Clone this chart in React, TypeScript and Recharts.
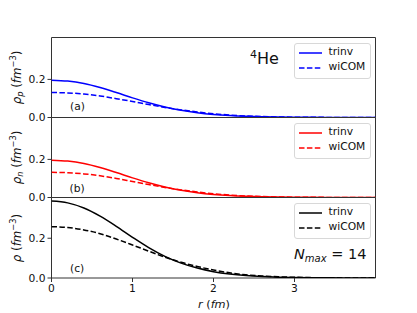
import React from "react";
import { LineChart, Line, XAxis, YAxis, ReferenceArea, Legend } from "recharts";

// radius (fm)
const radius = [0, 0.2, 0.4, 0.6, 0.8, 1.0, 1.2, 1.4, 1.6, 1.8, 2.0, 2.2, 2.4, 2.6, 2.8, 3.0, 3.2, 3.4, 3.6, 3.8, 4.0];
// proton density
const protonTrinv = [0.196, 0.191, 0.178, 0.157, 0.131, 0.103, 0.077, 0.055, 0.038, 0.025, 0.016, 0.01, 0.006, 0.0035, 0.002, 0.0012, 0.0007, 0.0004, 0.0002, 0.0001, 0.0001];
const protonWiCOM = [0.131, 0.129, 0.123, 0.113, 0.099, 0.084, 0.068, 0.053, 0.04, 0.029, 0.02, 0.013, 0.008, 0.005, 0.003, 0.0018, 0.001, 0.0006, 0.0003, 0.0002, 0.0001];
// neutron density
const neutronTrinv = [0.196, 0.191, 0.178, 0.157, 0.131, 0.103, 0.077, 0.055, 0.038, 0.025, 0.016, 0.01, 0.006, 0.0035, 0.002, 0.0012, 0.0007, 0.0004, 0.0002, 0.0001, 0.0001];
const neutronWiCOM = [0.132, 0.13, 0.124, 0.114, 0.1, 0.084, 0.068, 0.053, 0.04, 0.029, 0.02, 0.013, 0.008, 0.005, 0.003, 0.0018, 0.001, 0.0006, 0.0003, 0.0002, 0.0001];
// total density
const totalTrinv = [0.387, 0.378, 0.352, 0.311, 0.26, 0.205, 0.153, 0.109, 0.075, 0.05, 0.032, 0.02, 0.012, 0.007, 0.004, 0.0024, 0.0014, 0.0008, 0.0004, 0.0002, 0.0001];
const totalWiCOM = [0.258, 0.254, 0.242, 0.223, 0.196, 0.166, 0.135, 0.105, 0.079, 0.058, 0.04, 0.026, 0.016, 0.01, 0.006, 0.0035, 0.002, 0.0012, 0.0006, 0.0003, 0.0002];

const xTicks = [0, 1, 2, 3];
const yTicks = [0, 0.2];
const seriesNames = ["trinv", "wiCOM"];

const table = radius.map((r, i) => ({
  r,
  pS: protonTrinv[i],
  pD: protonWiCOM[i],
  nS: neutronTrinv[i],
  nD: neutronWiCOM[i],
  tS: totalTrinv[i],
  tD: totalWiCOM[i],
}));

const FONT = "'DejaVu Sans', sans-serif";
const FS = 10.7;
const YFS = 11.8;
const YSUB = 8.3;
const DASH = "5.5 2.4";
const W = 417;
const H = 313;

const legendContent = (color: string) => () => (
  <div
    style={{
      position: "relative",
      width: 77,
      height: 36,
      boxSizing: "border-box",
      border: "1px solid #d8d8d8",
      borderRadius: 3,
      background: "rgba(255,255,255,0.8)",
      fontFamily: FONT,
      fontSize: FS,
      color: "#111",
    }}
  >
    {seriesNames.map((name, i) => (
      <div
        key={name}
        style={{ position: "absolute", left: 0, top: (i === 0 ? 9 : 24.3) - 7, height: 14, width: 77, lineHeight: "14px" }}
      >
        <svg width={26} height={14} style={{ position: "absolute", left: 3, top: 0 }}>
          <line x1={1} y1={7} x2={24} y2={7} stroke={color} strokeWidth={1.5} strokeDasharray={i === 1 ? DASH : undefined} />
        </svg>
        <span style={{ position: "absolute", left: 34, top: -1 }}>{name}</span>
      </div>
    ))}
  </div>
);

type PanelProps = {
  top: number;
  bottom: number;
  ymax: number;
  solidKey: string;
  dashKey: string;
  color: string;
  showX: boolean;
};

function Panel({ top, bottom, ymax, solidKey, dashKey, color, showX }: PanelProps) {
  return (
    <div style={{ position: "absolute", left: 0, top: 0 }}>
      <LineChart
        width={380}
        height={H}
        data={table}
        margin={{ top, right: 4.5, left: 0, bottom: showX ? 5 : H - bottom }}
      >
        <XAxis
          dataKey="r"
          type="number"
          domain={[0, 4]}
          ticks={xTicks}
          allowDataOverflow
          hide={!showX}
          height={30}
          axisLine={false}
          tickSize={4}
          tickMargin={2}
          tickLine={{ stroke: "#333" }}
          tick={{ fontFamily: FONT, fontSize: FS, fill: "#111" }}
        />
        <YAxis
          type="number"
          domain={[0, ymax]}
          ticks={yTicks}
          allowDataOverflow
          width={51.5}
          axisLine={false}
          tickSize={4}
          tickMargin={2}
          tickLine={{ stroke: "#333" }}
          tick={{ fontFamily: FONT, fontSize: FS, fill: "#111" }}
          tickFormatter={(v: number) => v.toFixed(1)}
        />
        <Line dataKey={solidKey} name="trinv" type="monotone" stroke={color} strokeWidth={1.5} dot={false} isAnimationActive={false} />
        <Line dataKey={dashKey} name="wiCOM" type="monotone" stroke={color} strokeWidth={1.5} strokeDasharray={DASH} dot={false} isAnimationActive={false} />
        <ReferenceArea x1={0} x2={4} y1={0} y2={ymax} fill="none" fillOpacity={0} stroke="#333" strokeWidth={1} />
        <Legend
          layout="vertical"
          align="center"
          verticalAlign="middle"
          wrapperStyle={{ left: 293.5, top: top + 5.2, width: 77, height: 36 }}
          content={legendContent(color)}
        />
      </LineChart>
    </div>
  );
}

export default function App() {
  return (
    <div style={{ position: "absolute", left: 0, top: 0, width: W, height: H, background: "#fff" }}>
      <Panel top={37.5} bottom={117.5} ymax={0.42} solidKey="pS" dashKey="pD" color="#0000ff" showX={false} />
      <Panel top={117.5} bottom={197.5} ymax={0.42} solidKey="nS" dashKey="nD" color="#ff0000" showX={false} />
      <Panel top={197.5} bottom={278} ymax={0.405} solidKey="tS" dashKey="tD" color="#000000" showX={true} />
      <svg width={W} height={H} style={{ position: "absolute", left: 0, top: 0, pointerEvents: "none" }} fontFamily={FONT} fill="#111">
        {/* y-axis labels */}
        <text transform="translate(20.5,77.5) rotate(-90)" textAnchor="middle" fontSize={YFS}>
          <tspan fontStyle="italic">ρ</tspan>
          <tspan fontStyle="italic" fontSize={YSUB} dy={2.8}>p</tspan>
          <tspan dy={-2.8}> (</tspan>
          <tspan fontStyle="italic">fm</tspan>
          <tspan fontSize={YSUB} dy={-4.5}>−3</tspan>
          <tspan dy={4.5}>)</tspan>
        </text>
        <text transform="translate(20.5,157.5) rotate(-90)" textAnchor="middle" fontSize={YFS}>
          <tspan fontStyle="italic">ρ</tspan>
          <tspan fontStyle="italic" fontSize={YSUB} dy={2.8}>n</tspan>
          <tspan dy={-2.8}> (</tspan>
          <tspan fontStyle="italic">fm</tspan>
          <tspan fontSize={YSUB} dy={-4.5}>−3</tspan>
          <tspan dy={4.5}>)</tspan>
        </text>
        <text transform="translate(20.5,238) rotate(-90)" textAnchor="middle" fontSize={YFS}>
          <tspan fontStyle="italic">ρ</tspan>
          <tspan> (</tspan>
          <tspan fontStyle="italic">fm</tspan>
          <tspan fontSize={YSUB} dy={-4.5}>−3</tspan>
          <tspan dy={4.5}>)</tspan>
        </text>
        {/* x-axis label */}
        <text x={214} y={307.5} textAnchor="middle" fontSize={11.3}>
          <tspan fontStyle="italic">r</tspan>
          <tspan> (</tspan>
          <tspan fontStyle="italic">fm</tspan>
          <tspan>)</tspan>
        </text>
        {/* panel tags */}
        <text x={70} y={110} fontSize={FS}>(a)</text>
        <text x={69.5} y={192} fontSize={FS}>(b)</text>
        <text x={70} y={271.5} fontSize={FS}>(c)</text>
        {/* nucleus */}
        <text x={250} y={57.5} fontSize={11}>4</text>
        <text x={257} y={64.3} fontSize={16}>He</text>
        {/* Nmax */}
        <text x={294} y={259} fontSize={14.5}>
          <tspan fontStyle="italic">N</tspan>
          <tspan fontStyle="italic" fontSize={10} dy={3}>max</tspan>
          <tspan dy={-3}> = 14</tspan>
        </text>
      </svg>
    </div>
  );
}
